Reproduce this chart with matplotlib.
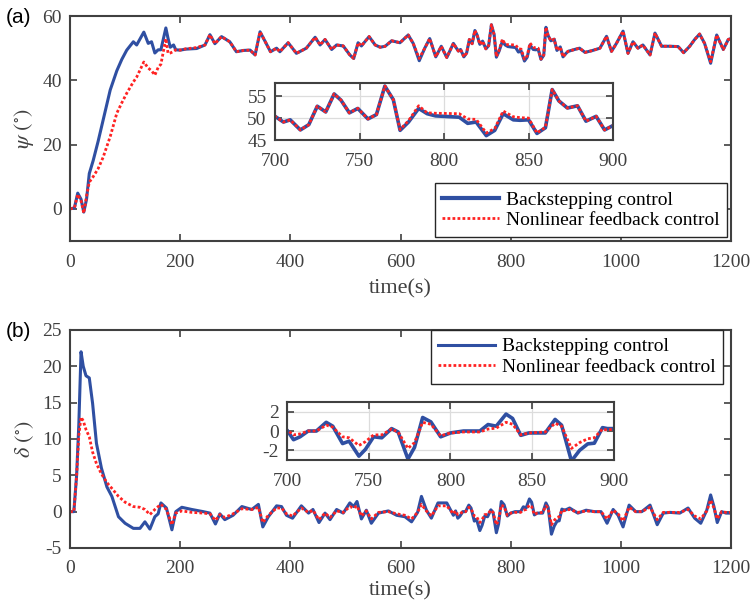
import matplotlib
matplotlib.use("Agg")
import matplotlib.pyplot as plt

# fonts - times style for numbers and labels
plt.rcParams['font.family'] = ['Liberation Serif', 'DejaVu Serif']
plt.rcParams['mathtext.fontset'] = 'stix'
plt.rcParams['axes.unicode_minus'] = False  # plain hyphen for negatives

# heading angle psi (deg)
t_psi = [0, 8, 14, 20, 25, 30, 35, 42, 51, 60,
         73, 85, 94, 103, 115, 121, 134, 142, 148, 154,
         160, 165, 174, 178, 182, 188, 192, 200, 210, 230,
         245, 254, 263, 275, 290, 302, 315, 327, 336, 345,
         356, 364, 375, 381, 396, 411, 429, 445, 454, 463,
         475, 484, 496, 508, 515, 523, 529, 543, 554, 563,
         572, 584, 599, 614, 623, 634, 644, 653, 664, 674,
         684, 696,
         700, 705, 709, 715, 720, 725, 730, 735, 739, 744,
         749, 755, 760, 765, 770, 774, 779, 785, 790, 795,
         809, 814, 819, 825, 830, 835, 841, 845, 850, 855,
         860, 864, 868, 873, 879, 884, 890, 895, 900,
         904, 916, 925, 935, 947, 962, 974, 983, 992, 1004,
         1013, 1022, 1031, 1040, 1053, 1062, 1074, 1089, 1104, 1114,
         1125, 1134, 1143, 1152, 1163, 1174, 1186, 1195, 1200]

psi_bs = [0, 0.3, 4.9, 3.0, -1.0, 3.0, 11.0, 15.0, 21.0, 27.6,
          37.0, 43.0, 46.5, 49.4, 52.0, 51.0, 55.0, 51.5, 52.0, 48.5,
          49.5, 49.5, 56.3, 53.0, 50.3, 51.0, 49.5, 49.4, 49.7, 49.9,
          51.0, 54.2, 51.4, 53.6, 52.0, 48.9, 49.3, 49.4, 47.9, 55.1,
          51.5, 48.9, 50.0, 48.9, 51.7, 48.4, 50.0, 53.4, 51.0, 52.7,
          49.6, 51.0, 50.7, 47.9, 46.8, 51.7, 50.7, 53.6, 51.0, 50.3,
          50.6, 52.3, 51.7, 54.1, 51.5, 46.1, 50.0, 53.0, 47.3, 50.6,
          47.1, 51.5,
          50.4, 49.1, 49.6, 47.3, 48.5, 52.7, 51.4, 55.5, 54.1, 51.2,
          52.2, 49.8, 50.8, 57.3, 54.2, 47.2, 49.1, 52.2, 51.0, 50.5,
          50.2, 48.8, 49.1, 46.0, 47.2, 51.0, 49.6, 49.5, 49.6, 46.5,
          47.8, 56.5, 53.9, 52.3, 52.8, 49.3, 50.4, 47.3, 48.3,
          49.0, 49.6, 50.0, 48.7, 49.2, 50.0, 53.7, 49.0, 51.5, 55.3,
          48.4, 52.0, 50.0, 51.0, 47.9, 54.7, 50.6, 50.6, 50.5, 48.6,
          50.6, 52.7, 54.4, 51.5, 45.3, 54.1, 49.6, 52.7, 53.0]

psi_nf = [0, 0.3, 4.5, 2.5, -1.3, 4.0, 8.3, 10.0, 12.5, 16.0,
          22.5, 29.8, 33.0, 36.0, 39.5, 41.0, 45.7, 43.8, 43.0, 41.6,
          44.0, 45.0, 53.0, 48.4, 48.5, 49.0, 49.5, 49.4, 49.8, 50.2,
          51.0, 54.2, 51.4, 53.6, 52.0, 48.9, 49.3, 49.4, 47.9, 55.1,
          51.5, 48.9, 50.0, 48.9, 51.7, 48.4, 50.0, 53.4, 51.0, 52.7,
          49.6, 51.0, 50.7, 47.9, 46.8, 51.7, 50.7, 53.6, 51.0, 50.3,
          50.6, 52.3, 51.7, 54.1, 51.5, 46.8, 50.0, 53.0, 47.3, 50.6,
          47.1, 51.5,
          50.4, 49.1, 49.6, 47.3, 48.5, 52.7, 51.4, 55.5, 54.1, 51.2,
          52.2, 49.8, 50.8, 57.3, 54.2, 47.4, 49.4, 52.8, 51.2, 51.1,
          51.0, 49.8, 49.7, 46.6, 47.6, 51.6, 50.3, 50.1, 50.0, 46.6,
          47.9, 56.5, 53.9, 52.3, 52.8, 49.3, 50.4, 47.3, 48.3,
          49.0, 49.6, 50.0, 48.7, 49.2, 50.0, 53.7, 49.0, 51.5, 55.3,
          48.4, 52.0, 50.0, 51.0, 47.9, 54.7, 50.6, 50.6, 50.5, 48.6,
          50.6, 52.7, 54.4, 51.5, 45.8, 54.1, 49.6, 52.7, 53.0]

# rudder angle delta (deg)
t_delta = [0, 7, 12, 16, 20, 24, 29, 35, 41, 48,
           57, 67, 76, 88, 100, 115, 127, 136, 145, 154,
           160, 165, 175, 185, 192, 203, 221, 242, 254, 264,
           272, 281, 296, 312, 330, 342, 350, 360, 375, 384,
           393, 404, 420, 433, 441, 452, 463, 472, 484, 496,
           508, 515, 521, 529, 538, 547, 560, 578, 593, 608,
           620, 631, 638, 647, 656, 668, 684, 696,
           700, 704, 708, 713, 718, 724, 728, 734, 738, 744,
           748, 753, 758, 764, 768, 774, 778, 783, 788, 794,
           800, 808, 818, 823, 828, 834, 838, 843, 848, 858,
           864, 868, 874, 879, 884, 888, 893, 896, 900,
           907, 922, 937, 952, 964, 975, 986, 995, 1004, 1015,
           1027, 1038, 1053, 1066, 1077, 1089, 1107, 1122, 1134, 1145,
           1156, 1163, 1169, 1175, 1183, 1191, 1200]

delta_bs = [0, 0, 5.0, 12.0, 22.0, 20.0, 18.7, 18.4, 14.9, 9.4,
            6.0, 3.4, 2.1, -0.7, -1.6, -2.3, -2.3, -1.4, -2.4, -0.7,
            -0.3, 1.2, 0.5, -2.5, 0.0, 0.6, 0.3, 0.0, -0.2, -1.7,
            -0.3, -1.1, -0.5, 0.7, 0.3, 1.0, -2.1, -0.7, 0.8, 0.7,
            -0.5, -0.9, 0.8, -0.2, 0.3, -1.5, -0.2, -1.1, 0.3, -0.2,
            1.2, 0.7, 1.4, -1.0, 0.2, -1.6, -0.2, 0.1, -0.5, -0.7,
            -1.4, -0.1, 2.1, 0.2, -0.9, 1.2, 1.2, -0.5,
            0.1, -0.9, -0.6, 0.0, 0.0, 0.9, 0.5, -1.3, -1.05, -2.6,
            -1.9, -0.6, -0.7, 0.25, -0.1, -2.9, -1.7, 1.4, 0.95, -0.6,
            -0.2, 0.0, 0.0, 0.67, 0.5, 1.75, 1.3, -0.45, -0.2, -0.2,
            1.2, 0.6, -3.1, -2.0, -1.33, -1.26, 0.35, 0.25, 0.25,
            0.5, -0.2, 0.2, 0.0, 0.0, -1.6, 0.3, -0.5, -2.1, 0.9,
            0.0, 0.0, 0.9, -1.8, -0.2, -0.1, -0.2, 0.5, -0.9, -1.6,
            0.2, 2.3, 0.7, -1.5, 0.0, -0.2, -0.2]

delta_nf = [0, 0, 5.0, 10.5, 13.0, 12.5, 11.3, 10.3, 8.2, 6.6,
            5.2, 4.0, 3.2, 2.1, 1.3, 0.7, 0.6, 0.3, -0.4, 0.3,
            0.7, 1.0, 0.3, -1.8, -0.2, 0.1, -0.1, -0.2, -0.3, -1.2,
            -0.4, -0.8, -0.3, 0.4, 0.3, 0.6, -1.5, -0.5, 0.5, 0.5,
            -0.3, -0.6, 0.5, -0.1, 0.2, -1.1, -0.2, -0.8, 0.1, -0.1,
            0.7, 0.5, 0.8, -0.6, 0.1, -1.0, -0.1, 0.0, -0.3, -0.5,
            -1.0, -0.1, 1.0, 0.1, -0.6, 0.8, 0.8, -0.3,
            0.1, -0.4, -0.3, 0.0, 0.0, 0.6, 0.4, -0.6, -0.7, -1.5,
            -1.1, -0.4, -0.4, 0.2, -0.1, -1.8, -1.2, 0.9, 0.7, -0.5,
            -0.2, -0.1, -0.1, 0.2, 0.3, 0.9, 0.7, -0.4, -0.2, -0.1,
            0.8, 0.5, -1.8, -1.2, -0.8, -0.7, 0.2, 0.1, 0.2,
            0.3, -0.1, 0.1, 0.0, 0.0, -1.0, 0.2, -0.3, -1.3, 0.6,
            0.0, 0.0, 0.6, -1.1, -0.1, -0.1, -0.1, 0.3, -0.6, -1.0,
            0.1, 1.6, 0.5, -1.0, 0.0, -0.1, -0.1]

labels = ['Backstepping control', 'Nonlinear feedback control']

blue = '#2f4fa2'
red = '#ff2222'
grey = '#404040'


def style_axes(ax):
    # matlab look: box on, ticks inside on all four sides
    for s in ax.spines.values():
        s.set_color(grey)
        s.set_linewidth(1.5)
    ax.tick_params(direction='in', top=True, right=True, length=5,
                   width=1.2, color=grey, labelcolor=grey, labelsize=14)
    ax.tick_params(axis='x', pad=9)
    ax.tick_params(axis='y', pad=6)


def draw_lines(ax, t, y1, y2, lw=2.2):
    ax.plot(t, y1, color=blue, lw=lw, label=labels[0], solid_joinstyle='round')
    ax.plot(t, y2, color=red, lw=2.0, ls=(0, (1, 0.8)), label=labels[1])


def add_legend(ax, loc, anchor):
    leg = ax.legend(loc=loc, bbox_to_anchor=anchor, borderaxespad=0,
                    fontsize=14, handlelength=2.9, labelspacing=0.15, borderpad=0.4,
                    handletextpad=0.35, fancybox=False, framealpha=1, edgecolor='#262626')
    leg.get_frame().set_linewidth(1.0)
    return leg


fig = plt.figure(figsize=(7.52, 6.08), dpi=100)

# (a) heading
ax1 = fig.add_axes([0.0931, 0.6036, 0.879, 0.370])
draw_lines(ax1, t_psi, psi_bs, psi_nf)
ax1.set_xlim(0, 1200)
ax1.set_ylim(-10, 60)
ax1.set_xticks(range(0, 1201, 200))
ax1.set_yticks([0, 20, 40, 60])
style_axes(ax1)
ax1.set_xlabel('time(s)', fontsize=16, color=grey, labelpad=6)
ax1.set_ylabel(r'$\psi\ (^{\circ})$', fontsize=16, color=grey, labelpad=4)
leg1 = add_legend(ax1, 'lower right', (0.994, 0.018))
leg1.get_lines()[0].set_linewidth(3)
fig.text(0.007, 0.972, '(a)', fontsize=15, family='Liberation Sans', va='center')

# zoom of 700-900s
in1 = fig.add_axes([0.3657, 0.7697, 0.4495, 0.0938])
draw_lines(in1, t_psi, psi_bs, psi_nf, lw=2.6)
in1.set_xlim(700, 900)
in1.set_ylim(45, 58)
in1.set_xticks([700, 750, 800, 850, 900])
in1.set_yticks([45, 50, 55])
in1.grid(True, color='#dcdcdc', lw=0.9)
style_axes(in1)

# (b) rudder
ax2 = fig.add_axes([0.0931, 0.0987, 0.879, 0.3586])
draw_lines(ax2, t_delta, delta_bs, delta_nf)
ax2.set_xlim(0, 1200)
ax2.set_ylim(-5, 25)
ax2.set_xticks(range(0, 1201, 200))
ax2.set_yticks(range(-5, 26, 5))
style_axes(ax2)
ax2.set_xlabel('time(s)', fontsize=16, color=grey, labelpad=3)
ax2.set_ylabel(r'$\delta\ (^{\circ})$', fontsize=16, color=grey, labelpad=4)
add_legend(ax2, 'upper right', (0.988, 1.0))
fig.text(0.007, 0.455, '(b)', fontsize=15, family='Liberation Sans', va='center')

in2 = fig.add_axes([0.3816, 0.2434, 0.4348, 0.0954])
draw_lines(in2, t_delta, delta_bs, delta_nf, lw=2.6)
in2.set_xlim(700, 900)
in2.set_ylim(-3, 3)
in2.set_xticks([700, 750, 800, 850, 900])
in2.set_yticks([-2, 0, 2])
in2.grid(True, color='#dcdcdc', lw=0.9)
style_axes(in2)

fig.savefig('out.png', dpi=100)
